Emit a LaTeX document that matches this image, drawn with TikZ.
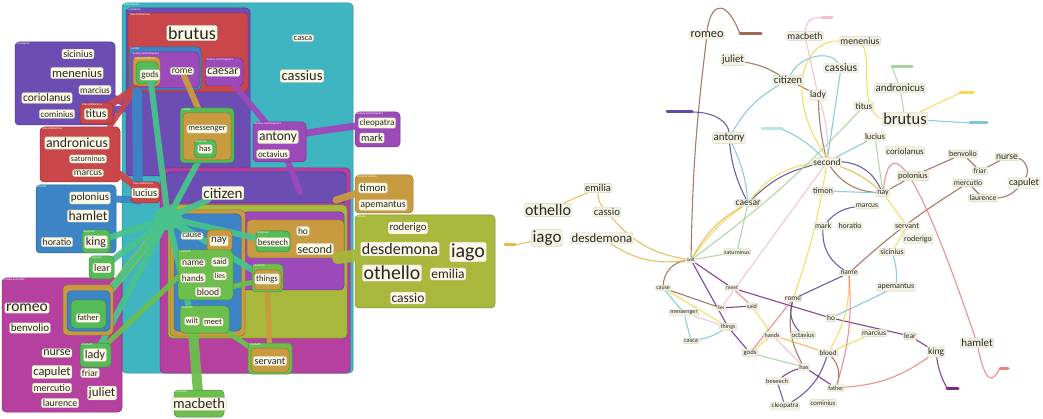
\documentclass[tikz,border=0pt]{standalone}
\usepackage{fontspec}
\setmainfont{Carlito}
\definecolor{jcteal}{HTML}{3EB5C1}
\definecolor{copurple}{HTML}{6B4DB4}
\definecolor{tared}{HTML}{C9474B}
\definecolor{hablue}{HTML}{3C84C6}
\definecolor{acviolet}{HTML}{9C49BA}
\definecolor{toochre}{HTML}{C89B40}
\definecolor{klgreen}{HTML}{55BB57}
\definecolor{hubgreen}{HTML}{48C28C}
\definecolor{rjmagenta}{HTML}{B5409F}
\definecolor{otolive}{HTML}{A7B83C}
\definecolor{mbgreen}{HTML}{6CBF4D}
\definecolor{wordbg}{HTML}{FBF8E4}
\definecolor{inkgrey}{HTML}{262626}
\definecolor{gnodebg}{HTML}{F4F3E3}
\definecolor{gnodeln}{HTML}{D6D4BA}
\definecolor{rjbrown}{HTML}{9E6C56}
\definecolor{acindigo}{HTML}{5A4FA0}
\definecolor{klpurple}{HTML}{7B2D8D}
\definecolor{jcyellow}{HTML}{F4D953}
\definecolor{otorange}{HTML}{E8B84E}
\definecolor{tealc}{HTML}{7DC8D7}
\definecolor{lgreenc}{HTML}{A8D39D}
\definecolor{pinkc}{HTML}{F1BED2}
\definecolor{hsalmon}{HTML}{EC8483}
\pgfdeclarelayer{back}
\pgfdeclarelayer{mid}
\pgfsetlayers{back,mid,main}
\newcommand{\wsz}[1]{\fontsize{#1}{#1}\selectfont}
\tikzset{
  word/.style={fill=wordbg, draw=wordbg!80!black, line width=.3pt, rounded corners=1.5pt, inner sep=1.3pt, text=inkgrey},
  gnode/.style={fill=gnodebg, draw=gnodeln, line width=.4pt, rounded corners=1.5pt, inner sep=1pt, text=inkgrey},
  setbox/.style={fill=#1, draw=#1!75!black, line width=.5pt, rounded corners=4pt},
  setname/.style={font=\wsz{3}, text=white, anchor=north west, inner sep=.5pt},
  arm/.style={draw=#1, line width=7pt, line cap=round, opacity=.95},
  tie/.style={draw=#1, line width=1.1pt, opacity=.9},
  tail/.style={draw=#1, line width=3pt, line cap=round},
}
\begin{document}
\begin{tikzpicture}[x=1pt,y=-1pt]
\useasboundingbox (0,0) rectangle (1043,419);

%%% left: set view
\begin{pgfonlayer}{back}
  \draw[setbox=jcteal] (122,3) rectangle (353,373);
  \draw[setbox=copurple] (126,8) rectangle (250,176);
  \draw[setbox=tared] (128,13) rectangle (248,92);
  \draw[setbox=hablue] (129,47) rectangle (201,90);
  \draw[setbox=acviolet] (131,52) rectangle (199,88);
  \draw[setbox=toochre] (133,57) rectangle (160,86);
  \draw[setbox=klgreen] (136,62) rectangle (158,84);
  \draw[setbox=acviolet] (205,58) rectangle (243,86);
  \draw[setbox=rjmagenta] (160,168) rectangle (350,373);
  \draw[setbox=copurple] (166,172) rectangle (346,203);
  \draw[setbox=otolive] (168,205) rectangle (347,338);
  \draw[setbox=acviolet] (243,212) rectangle (344,290);
  \draw[setbox=toochre] (247,220) rectangle (344,258);
  \draw[setbox=toochre] (170,210) rectangle (245,336);
  \draw[setbox=hablue] (174,214) rectangle (241,331);
  % sets outside
  \draw[setbox=copurple] (15,42) rectangle (115,125);
  \draw[setbox=tared] (40,127) rectangle (120,182);
  \draw[setbox=hablue] (36,185) rectangle (116,253);
  \draw[setbox=rjmagenta] (2,278) rectangle (122,412);
  \draw[setbox=acviolet] (355,112) rectangle (400,147);
  \draw[setbox=toochre] (355,175) rectangle (413,213);
  \draw[setbox=otolive] (355,215) rectangle (495,308);
  \node[setname] at (123,3) {Julius Caesar};
  \node[setname] at (127,8) {Coriolanus};
  \node[setname] at (129,13) {Titus Andronicus};
  \node[setname] at (130,47) {Hamlet};
  \node[setname] at (132,52) {Antony and Cleopatra};
  \node[setname] at (134,57) {Timon of Athens};
  \node[setname] at (206,58) {Antony and Cleopatra};
  \node[setname] at (16,42) {Coriolanus};
  \node[setname] at (41,127) {Titus Andronicus};
  \node[setname] at (37,185) {Hamlet};
  \node[setname] at (3,278) {Romeo and Juliet};
  \node[setname] at (356,112) {Antony and Cleopatra};
  \node[setname] at (356,175) {Timon of Athens};
  \node[setname] at (356,215) {Othello};
\end{pgfonlayer}

% small sets round single words
\draw[setbox=klgreen] (180,108) rectangle (234,163);
\draw[setbox=toochre] (183,113) rectangle (231,160);
\draw[setbox=klgreen] (194,140) rectangle (216,158);
\draw[setbox=acviolet] (253,122) rectangle (306,162);
\draw[setbox=tared] (80,103) rectangle (113,124);
\draw[setbox=tared] (131,182) rectangle (160,203);
\draw[setbox=klgreen] (82,230) rectangle (110,253);
\draw[setbox=klgreen] (89,256) rectangle (114,279);
\draw[setbox=toochre] (63,285) rectangle (113,335);
\draw[setbox=hablue] (67,291) rectangle (110,331);
\draw[setbox=klgreen] (71,300) rectangle (106,328);
\draw[setbox=klgreen] (80,343) rectangle (111,367);
\draw[setbox=toochre] (207,230) rectangle (232,252);
\draw[setbox=mbgreen] (178,250) rectangle (233,300);
\draw[setbox=klgreen] (256,231) rectangle (290,252);
\draw[setbox=mbgreen] (252,264) rectangle (283,292);
\draw[setbox=toochre] (254,270) rectangle (281,290);
\draw[setbox=mbgreen] (180,306) rectangle (229,333);
\draw[setbox=mbgreen] (248,343) rectangle (292,374);
\draw[setbox=toochre] (251,348) rectangle (289,372);
\draw[setbox=mbgreen] (174,390) rectangle (224,417);
\node[setname] at (254,122) {Antony and Cleopatra};
\node[setname] at (181,108) {Hamlet};
\node[setname] at (195,140) {King Lear};
\node[setname] at (81,103) {Titus Andronicus};
\node[setname] at (132,182) {Titus Andronicus};
\node[setname] at (83,230) {King Lear};
\node[setname] at (90,256) {King Lear};
\node[setname] at (81,343) {Macbeth};
\node[setname] at (179,250) {Macbeth};
\node[setname] at (257,231) {King Lear};
\node[setname] at (253,264) {Macbeth};
\node[setname] at (181,306) {Macbeth};
\node[setname] at (249,343) {Macbeth};
\node[setname] at (175,390) {Macbeth};

\node[word,font=\wsz{18}] (lbrutus) at (192,33) {brutus};
\node[word,font=\wsz{8.5}] (lcasca) at (303,38) {casca};
\node[word,font=\wsz{14.5}] (lcassius) at (302,76) {cassius};
\node[word,font=\wsz{9}] (lgods) at (150,75) {gods};
\node[word,font=\wsz{9.5}] (lrome) at (182,71) {rome};
\node[word,font=\wsz{12}] (lcaesar) at (223,72) {caesar};
\node[word,font=\wsz{13.5}] (lantony) at (278,137) {antony};
\node[word,font=\wsz{9}] (loctavius) at (273,154) {octavius};
\node[word,font=\wsz{8.5}] (lmessenger) at (207,129) {messenger};
\node[word,font=\wsz{8.5}] (lhas) at (205,149) {has};
\node[word,font=\wsz{15}] (lcitizen) at (223,193) {citizen};
\node[word,font=\wsz{10.5}] (llucius) at (145,193) {lucius};
\node[word,font=\wsz{10}] (lsicinius) at (78,54) {sicinius};
\node[word,font=\wsz{12.5}] (lmenenius) at (77,73) {menenius};
\node[word,font=\wsz{9.3}] (lmarcius) at (95,90) {marcius};
\node[word,font=\wsz{11.4}] (lcoriolanus) at (47,98) {coriolanus};
\node[word,font=\wsz{9}] (lcominius) at (57,114) {cominius};
\node[word,font=\wsz{11.5}] (ltitus) at (96,114) {titus};
\node[word,font=\wsz{13.8}] (landronicus) at (77,143) {andronicus};
\node[word,font=\wsz{8}] (lsaturninus) at (88,159) {saturninus};
\node[word,font=\wsz{9.5}] (lmarcus) at (88,173) {marcus};
\node[word,font=\wsz{11}] (lpolonius) at (90,198) {polonius};
\node[word,font=\wsz{13.6}] (lhamlet) at (88,216) {hamlet};
\node[word,font=\wsz{9.8}] (lhoratio) at (57,242) {horatio};
\node[word,font=\wsz{12}] (lking) at (96,242) {king};
\node[word,font=\wsz{10}] (llear) at (102,268) {lear};
\node[word,font=\wsz{15.6}] (lromeo) at (27,308) {romeo};
\node[word,font=\wsz{11}] (lbenvolio) at (30,328) {benvolio};
\node[word,font=\wsz{12}] (lnurse) at (57,353) {nurse};
\node[word,font=\wsz{12}] (llady) at (95,355) {lady};
\node[word,font=\wsz{12.4}] (lcapulet) at (52,372) {capulet};
\node[word,font=\wsz{9.4}] (lfriar) at (90,373) {friar};
\node[word,font=\wsz{10}] (lmercutio) at (52,388) {mercutio};
\node[word,font=\wsz{13}] (ljuliet) at (102,393) {juliet};
\node[word,font=\wsz{9.8}] (llaurence) at (60,403) {laurence};
\node[word,font=\wsz{8.5}] (lfather) at (88,318) {father};
\node[word,font=\wsz{8.3}] (lcause) at (192,236) {cause};
\node[word,font=\wsz{11}] (lnay) at (219,241) {nay};
\node[word,font=\wsz{9}] (lbeseech) at (273,242) {beseech};
\node[word,font=\wsz{9.5}] (lho) at (303,231) {ho};
\node[word,font=\wsz{12}] (lsecond) at (315,249) {second};
\node[word,font=\wsz{9.5}] (lname) at (193,263) {name};
\node[word,font=\wsz{8.6}] (lsaid) at (220,262) {said};
\node[word,font=\wsz{9}] (lhands) at (193,278) {hands};
\node[word,font=\wsz{7.6}] (llies) at (220,276) {lies};
\node[word,font=\wsz{9.6}] (lblood) at (208,292) {blood};
\node[word,font=\wsz{8.8}] (lthings) at (267,279) {things};
\node[word,font=\wsz{8}] (lwilt) at (192,321) {wilt};
\node[word,font=\wsz{8.4}] (lmeet) at (213,322) {meet};
\node[word,font=\wsz{10.2}] (lservant) at (270,361) {servant};
\node[word,font=\wsz{14.5}] (lmacbeth) at (199,404) {macbeth};
\node[word,font=\wsz{9.1}] (lcleopatra) at (377,123) {cleopatra};
\node[word,font=\wsz{10.5}] (lmark) at (372,138) {mark};
\node[word,font=\wsz{10.8}] (ltimon) at (373,188) {timon};
\node[word,font=\wsz{10}] (lapemantus) at (383,205) {apemantus};
\node[word,font=\wsz{10.7}] (lroderigo) at (408,228) {roderigo};
\node[word,font=\wsz{16}] (ldesdemona) at (400,249) {desdemona};
\node[word,font=\wsz{20}] (liago) at (468,252) {iago};
\node[word,font=\wsz{19.8}] (lothello) at (392,273) {othello};
\node[word,font=\wsz{13.5}] (lemilia) at (448,274) {emilia};
\node[word,font=\wsz{13.5}] (lcassio) at (408,298) {cassio};

\coordinate (hub) at (168,218);
\coordinate (coin) at (136,108);
\coordinate (tain) at (136,88);
\coordinate (hain) at (138,200);
\coordinate (hatop) at (137,92);
\coordinate (acin) at (300,192);
\coordinate (toin) at (336,200);
\coordinate (otin) at (338,258);
\begin{pgfonlayer}{mid}
  \draw[arm=copurple] (lmarcius) -- (coin);
  \draw[arm=copurple] (lcominius) -- (coin);
  \draw[arm=tared] (ltitus) -- (tain);
  \draw[arm=tared] (landronicus) -- (llucius);
  \draw[arm=tared, line width=5pt] (lsaturninus) -- (tain);
  \draw[arm=hablue] (lpolonius) -- (hain);
  \draw[arm=hablue, line width=10pt] (hatop) -- (hain);
  \draw[arm=acviolet] (lcleopatra) -- (lantony);
  \draw[arm=acviolet, line width=6pt] (lcaesar) -- (lantony);
  \draw[arm=acviolet, line width=6pt] (lantony) -- (acin);
  \draw[arm=toochre] (ltimon) -- (toin);
  \draw[arm=toochre, line width=6pt] (lrome) -- (lmessenger);
  \draw[arm=toochre, line width=5pt] (lthings) -- (lservant);
  \draw[arm=otolive, line width=12pt] (ldesdemona) -- (otin);
  \draw[arm=otolive, line width=8pt] (lfather) -- (hub);
  \fill[hubgreen] (hub) ellipse (14 and 12);
  \foreach \w in {lgods,lhas,lking,llear,lfather,llady,lbeseech,lthings,lwilt,lcitizen,lcause}
    \draw[arm=hubgreen, line width=6pt] (hub) -- (\w);
  \draw[arm=mbgreen, line width=10pt] (lmacbeth) -- (lwilt);
  \draw[arm=mbgreen, line width=5pt] (llady) -- (lname);
  \draw[arm=mbgreen, line width=5pt] (lblood) -- (lthings);
  \draw[arm=mbgreen, line width=5pt] (lmeet) -- (lservant);
\end{pgfonlayer}

%%% right: graph view
\node[gnode,font=\wsz{12.3}] (rromeo) at (707,35) {romeo};
\node[gnode,font=\wsz{10.7}] (rjuliet) at (733,60) {juliet};
\node[gnode,font=\wsz{11}] (rantony) at (729,138) {antony};
\node[gnode,font=\wsz{10.5}] (remilia) at (598,188) {emilia};
\node[gnode,font=\wsz{16}] (rothello) at (548,210) {othello};
\node[gnode,font=\wsz{10.7}] (rcassio) at (607,212) {cassio};
\node[gnode,font=\wsz{17}] (riago) at (547,238) {iago};
\node[gnode,font=\wsz{12.7}] (rdesdemona) at (602,238) {desdemona};
\node[gnode,font=\wsz{9.5}] (rcaesar) at (748,203) {caesar};
\node[gnode,font=\wsz{6}] (rsaturninus) at (737,252) {saturninus};
\node[gnode,font=\wsz{9.8}] (rmacbeth) at (805,36) {macbeth};
\node[gnode,font=\wsz{9.8}] (rmenenius) at (860,41) {menenius};
\node[gnode,font=\wsz{11.5}] (rcassius) at (841,68) {cassius};
\node[gnode,font=\wsz{10.8}] (rcitizen) at (788,80) {citizen};
\node[gnode,font=\wsz{9.5}] (rlady) at (818,95) {lady};
\node[gnode,font=\wsz{10.9}] (randronicus) at (900,88) {andronicus};
\node[gnode,font=\wsz{9.2}] (rtitus) at (864,106) {titus};
\node[gnode,font=\wsz{16.4}] (rbrutus) at (905,119) {brutus};
\node[gnode,font=\wsz{8.6}] (rlucius) at (875,137) {lucius};
\node[gnode,font=\wsz{8.9}] (rcoriolanus) at (905,151) {coriolanus};
\node[gnode,font=\wsz{9.4}] (rsecond) at (827,162) {second};
\node[gnode,font=\wsz{8}] (rbenvolio) at (963,154) {benvolio};
\node[gnode,font=\wsz{9.6}] (rnurse) at (1007,157) {nurse};
\node[gnode,font=\wsz{7.4}] (rfriar) at (980,171) {friar};
\node[gnode,font=\wsz{8.5}] (rpolonius) at (913,176) {polonius};
\node[gnode,font=\wsz{10}] (rcapulet) at (1024,183) {capulet};
\node[gnode,font=\wsz{7.7}] (rmercutio) at (968,183) {mercutio};
\node[gnode,font=\wsz{7.6}] (rlaurence) at (983,198) {laurence};
\node[gnode,font=\wsz{8.3}] (rtimon) at (823,191) {timon};
\node[gnode,font=\wsz{8}] (rnay) at (883,193) {nay};
\node[gnode,font=\wsz{7.5}] (rmarcus) at (867,206) {marcus};
\node[gnode,font=\wsz{7.7}] (rmark) at (823,226) {mark};
\node[gnode,font=\wsz{7.8}] (rhoratio) at (850,226) {horatio};
\node[gnode,font=\wsz{7.9}] (rservant) at (907,226) {servant};
\node[gnode,font=\wsz{8}] (rroderigo) at (918,239) {roderigo};
\node[gnode,font=\wsz{7.9}] (rsicinius) at (892,252) {sicinius};
\node[gnode,font=\wsz{7.3}] (rname) at (849,273) {name};
\node[gnode,font=\wsz{8}] (rapemantus) at (896,287) {apemantus};
\node[gnode,font=\wsz{7.3}] (rrome) at (793,299) {rome};
\node[gnode,font=\wsz{7.5}] (rho) at (831,318) {ho};
\node[gnode,font=\wsz{6.8}] (roctavius) at (803,335) {octavius};
\node[gnode,font=\wsz{7.5}] (rmarcius) at (874,333) {marcius};
\node[gnode,font=\wsz{7.5}] (rlear) at (910,336) {lear};
\node[gnode,font=\wsz{9.5}] (rking) at (936,352) {king};
\node[gnode,font=\wsz{11}] (rhamlet) at (977,343) {hamlet};
\node[gnode,font=\wsz{7.2}] (rblood) at (828,353) {blood};
\node[gnode,font=\wsz{6.5}] (rhas) at (804,367) {has};
\node[gnode,font=\wsz{6.5}] (rbeseech) at (777,381) {beseech};
\node[gnode,font=\wsz{6.2}] (rfather) at (836,388) {father};
\node[gnode,font=\wsz{7}] (rcleopatra) at (785,406) {cleopatra};
\node[gnode,font=\wsz{6.8}] (rcominius) at (823,403) {cominius};
\node[gnode,font=\wsz{5.3}] (rwilt) at (691,260) {wilt};
\node[gnode,font=\wsz{5.8}] (rcause) at (663,288) {cause};
\node[gnode,font=\wsz{5.6}] (rmeet) at (732,288) {meet};
\node[gnode,font=\wsz{6.2}] (rmessenger) at (684,313) {messenger};
\node[gnode,font=\wsz{5.2}] (rlies) at (721,308) {lies};
\node[gnode,font=\wsz{6}] (rsaid) at (752,306) {said};
\node[gnode,font=\wsz{6}] (rthings) at (728,327) {things};
\node[gnode,font=\wsz{6.4}] (rcasca) at (691,341) {casca};
\node[gnode,font=\wsz{6.1}] (rhands) at (772,335) {hands};
\node[gnode,font=\wsz{6.7}] (rgods) at (750,353) {gods};

\coordinate (romeotail) at (740,34);   \coordinate (romeotailend) at (761,34);
\coordinate (antonytail) at (692,112); \coordinate (antonytailend) at (667,112);
\coordinate (iagotail) at (515,245);   \coordinate (iagotailend) at (505,245);
\coordinate (macbethtail) at (822,18); \coordinate (macbethtailend) at (832,18);
\coordinate (greentail) at (892,67);   \coordinate (greentailend) at (912,67);
\coordinate (yellowtail) at (960,93);  \coordinate (yellowtailend) at (973,93);
\coordinate (tealtail) at (970,123);   \coordinate (tealtailend) at (987,123);
\coordinate (hamlettail) at (1000,368); \coordinate (hamlettailend) at (1008,368);
\coordinate (kingtail) at (947,388);   \coordinate (kingtailend) at (958,388);
\coordinate (bluetag) at (782,129);    \coordinate (bluetagend) at (762,129);

\begin{pgfonlayer}{mid}
  % stubs
  \draw[tail=rjbrown] (romeotail) -- (romeotailend);
  \draw[tail=acindigo] (antonytail) -- (antonytailend);
  \draw[tail=otorange] (iagotail) -- (iagotailend);
  \draw[tail=pinkc] (macbethtail) -- (macbethtailend);
  \draw[tail=lgreenc] (greentail) -- (greentailend);
  \draw[tail=jcyellow] (yellowtail) -- (yellowtailend);
  \draw[tail=tealc] (tealtail) -- (tealtailend);
  \draw[tail=hsalmon] (hamlettail) -- (hamlettailend);
  \draw[tail=klpurple] (kingtail) -- (kingtailend);
  \draw[tail=tealc!50] (bluetag) -- (bluetagend);
  % Romeo and Juliet
  \draw[tie=rjbrown] (romeotail) .. controls (728,2) and (712,-2) .. (rromeo.north);
  \draw[tie=rjbrown] (rromeo) to[bend right=3] (rwilt);
  \draw[tie=rjbrown] (rjuliet) to[bend left=10] (rcitizen);
  \draw[tie=rjbrown] (rcitizen) -- (rlady);
  \draw[tie=rjbrown] (rlady) to[bend right=5] (rsecond);
  \draw[tie=rjbrown] (rsecond) to[bend right=25] (rnay);
  \draw[tie=rjbrown] (rnay) -- (rpolonius) -- (rbenvolio) -- (rfriar) -- (rnurse);
  \draw[tie=rjbrown] (rnurse) to[bend left=50] (rcapulet);
  \draw[tie=rjbrown] (rcapulet) to[bend left=20] (rlaurence);
  \draw[tie=rjbrown] (rlaurence) -- (rmercutio);
  \draw[tie=rjbrown] (rmercutio) to[bend right=5] (rname);
  \draw[tie=rjbrown] (rwilt) to[bend right=40] (rcause);
  \draw[tie=rjbrown] (rcause) -- (rlies);
  \draw[tie=rjbrown] (rblood) to[bend left=30] (rfather);
  \draw[tie=rjbrown] (rrome) to[bend right=20] (rhas);
  % Antony and Cleopatra
  \draw[tie=acindigo] (antonytail) .. controls (715,112) and (728,122) .. (rantony.north);
  \draw[tie=acindigo] (rantony) to[bend right=10] (rcaesar);
  \draw[tie=acindigo] (rcaesar) to[bend left=15] (rsecond);
  \draw[tie=acindigo] (rsecond) to[bend left=30] (rnay);
  \draw[tie=acindigo] (rmark) to[bend left=20] (rmarcus);
  \draw[tie=acindigo] (rmark) to[bend right=30] (rname);
  \draw[tie=acindigo] (rname) -- (rrome);
  \draw[tie=acindigo] (rrome) to[bend right=30] (roctavius);
  \draw[tie=acindigo] (rcleopatra) to[bend right=20] (rblood);
  \draw[tie=acindigo] (rbeseech) -- (rcleopatra);
  % King Lear
  \draw[tie=klpurple] (rwilt) -- (rmeet) -- (rho) -- (rlear) -- (rking);
  \draw[tie=klpurple] (rking) to[bend right=10] (kingtail);
  \draw[tie=klpurple] (rwilt) -- (rthings) -- (rgods);
  \draw[tie=klpurple] (rbeseech) to[bend left=10] (rhas);
  \draw[tie=klpurple] (rhas) -- (rfather);
  \draw[tie=klpurple] (rlies) -- (rsaid);
  % Julius Caesar
  \draw[tie=jcyellow] (rmenenius.west) .. controls (800,40) and (785,100) .. (rsecond.north);
  \draw[tie=jcyellow] (rmenenius) .. controls (872,60) and (858,110) .. (rbrutus.west);
  \draw[tie=jcyellow] (rbrutus) -- (yellowtail);
  \draw[tie=jcyellow] (rsecond) to[bend left=5] (rrome);
  \draw[tie=jcyellow] (rcaesar) to[bend left=22] (rsecond);
  \draw[tie=jcyellow] (rcaesar) to[bend right=10] (rwilt);
  \draw[tie=jcyellow] (rcause) -- (rthings);
  \draw[tie=jcyellow] (rhands) -- (rgods);
  \draw[tie=jcyellow] (rsaid) -- (rhands);
  \draw[tie=jcyellow] (rmarcius) -- (rblood);
  \draw[tie=jcyellow] (rnay) -- (rservant) -- (rsicinius);
  \draw[tie=jcyellow] (rname) to[bend left=15] (rblood);
  % Othello
  \draw[tie=otorange] (iagotail) -- (riago);
  \draw[tie=otorange] (rothello) -- (remilia);
  \draw[tie=otorange] (remilia) to[bend right=20] (rcassio);
  \draw[tie=otorange] (rcassio) to[bend right=20] (rwilt);
  \draw[tie=otorange] (rdesdemona) to[bend right=20] (rwilt);
  \draw[tie=otorange] (rwilt) to[bend left=15] (rcaesar);
  \draw[tie=otorange] (rsecond) to[bend left=10] (rnay);
  \draw[tie=otorange] (rhands) -- (rblood);
  % teal
  \draw[tie=tealc] (rbrutus) -- (tealtail);
  \draw[tie=tealc] (rcassius) .. controls (830,50) and (800,55) .. (rcitizen);
  \draw[tie=tealc] (rcassius) -- (rsecond);
  \draw[tie=tealc] (rlucius) -- (rsecond);
  \draw[tie=tealc] (rsecond) to[bend right=10] (bluetag);
  \draw[tie=tealc] (rcitizen) to[bend right=15] (rantony);
  \draw[tie=tealc] (rantony) to[bend left=10] (rcaesar);
  \draw[tie=tealc] (rcause) -- (rmessenger) -- (rcasca);
  \draw[tie=tealc] (rcasca) to[bend right=10] (rthings);
  \draw[tie=tealc] (rtimon) -- (rnay);
  \draw[tie=tealc] (rapemantus) -- (rho);
  \draw[tie=tealc] (rsicinius) to[bend left=10] (rapemantus);
  % light green
  \draw[tie=lgreenc] (randronicus) -- (greentail);
  \draw[tie=lgreenc] (randronicus) -- (rbrutus);
  \draw[tie=lgreenc] (rtitus) to[bend left=5] (rwilt);
  \draw[tie=lgreenc] (rcaesar) -- (rsaturninus) -- (rwilt);
  \draw[tie=lgreenc] (rlucius) -- (rnay);
  \draw[tie=lgreenc] (rgods) -- (rhas);
  % pink
  \draw[tie=pinkc] (macbethtail) .. controls (808,16) and (806,25) .. (rmacbeth.north);
  \draw[tie=pinkc] (rmacbeth) -- (rlady);
  \draw[tie=pinkc] (rlady) to[bend left=10] (rsecond);
  \draw[tie=pinkc] (rsecond) -- (rlies);
  \draw[tie=pinkc] (rmessenger) -- (rthings);
  \draw[tie=pinkc] (rhands) -- (rhas);
  % Hamlet
  \draw[tie=hsalmon] (rnay) .. controls (889,140) and (910,145) .. (rhamlet.center);
  \draw[tie=hsalmon] (rhamlet.center) .. controls (986,390) and (994,380) .. (hamlettail);
  \draw[tie=hsalmon] (rking) to[bend left=15] (rfather);
  \draw[tie=hsalmon] (rname) to[bend left=10] (rfather);
  \draw[tie=hsalmon] (rrome) -- (rgods);
  \draw[tie=hsalmon] (rsaid) -- (rmeet);
\end{pgfonlayer}
\end{tikzpicture}
\end{document}
